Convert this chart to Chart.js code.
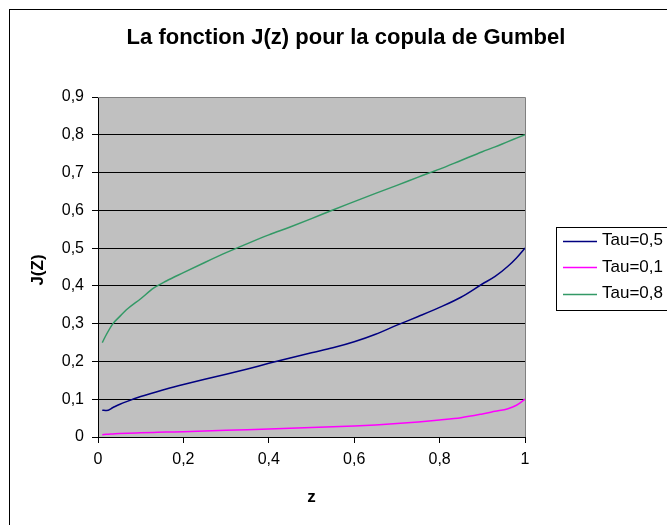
<!DOCTYPE html>
<html>
<head>
<meta charset="utf-8">
<script src="https://cdn.jsdelivr.net/npm/chart.js@4/dist/chart.umd.min.js"></script>
<style>
html,body{margin:0;padding:0;background:#fff;}
#wrap{width:667px;height:525px;position:relative;}
</style>
</head>
<body>
<div id="wrap"><canvas id="c" width="667" height="525"></canvas></div>
<script>
const titleText = "La fonction J(z) pour la copula de Gumbel";
const xTitle = "z";
const yTitle = "J(Z)";
const zValues = [0.01,0.02,0.035,0.05,0.07,0.1,0.13,0.16,0.2,0.25,0.3,0.35,0.4,0.45,0.5,0.55,0.6,0.65,0.7,0.75,0.8,0.85,0.9,0.93,0.96,0.98,1.0];
const tau05 = [0.071,0.070,0.078,0.086,0.095,0.107,0.117,0.127,0.139,0.153,0.166,0.180,0.195,0.209,0.223,0.236,0.252,0.272,0.296,0.319,0.343,0.370,0.405,0.425,0.452,0.474,0.500];
const tau01 = [0.006,0.007,0.008,0.009,0.010,0.011,0.012,0.013,0.014,0.016,0.018,0.019,0.021,0.023,0.025,0.027,0.029,0.032,0.036,0.040,0.045,0.051,0.061,0.068,0.075,0.084,0.100];
const tau08 = [0.250,0.272,0.300,0.318,0.340,0.366,0.394,0.413,0.435,0.462,0.488,0.512,0.535,0.556,0.578,0.601,0.623,0.645,0.666,0.688,0.709,0.732,0.755,0.768,0.782,0.791,0.800];
const seriesLabels = ["Tau=0,5","Tau=0,1","Tau=0,8"];
const seriesColors = ["#000080","#FF00FF","#339966"];
const xTickLabels = {0:"0",0.2:"0,2",0.4:"0,4",0.6:"0,6",0.8:"0,8",1:"1"};

function pts(ys){ return zValues.map((z,i)=>({x:z,y:ys[i]})); }
const allSeries = [tau05,tau01,tau08];

const FONT = "Arial, 'Liberation Sans', sans-serif";

const decor = {
  id:'decor',
  beforeDraw(chart){
    const ctx = chart.ctx, a = chart.chartArea;
    ctx.save();
    ctx.fillStyle = '#fff';
    ctx.fillRect(0,0,chart.width,chart.height);
    ctx.strokeStyle = '#000';
    ctx.lineWidth = 1;
    ctx.strokeRect(9.5,9.5,700,600);
    ctx.fillStyle = '#C0C0C0';
    ctx.fillRect(a.left,a.top,a.right-a.left,a.bottom-a.top);
    ctx.restore();
  },
  afterDraw(chart){
    const ctx = chart.ctx, a = chart.chartArea;
    ctx.save();
    ctx.fillStyle = '#000';
    ctx.font = "bold 22px " + FONT;
    ctx.textAlign = 'center';
    ctx.textBaseline = 'middle';
    ctx.fillText(titleText, 346, 38);
    ctx.font = "bold 17px " + FONT;
    ctx.fillText(xTitle, (a.left+a.right)/2, 497);
    ctx.save();
    ctx.translate(38,270);
    ctx.rotate(-Math.PI/2);
    ctx.fillText(yTitle,0,0);
    ctx.restore();
    // legend
    const lx = 556.5, ly = 227.5;
    ctx.strokeStyle = '#000';
    ctx.lineWidth = 1;
    ctx.fillStyle = '#fff';
    ctx.fillRect(lx,ly,200,83);
    ctx.strokeRect(lx,ly,200,83);
    ctx.font = "17px " + FONT;
    ctx.textAlign = 'left';
    chart.data.datasets.forEach((ds,i)=>{
      const y = 240.5 + i*26.5;
      ctx.strokeStyle = ds.borderColor;
      ctx.lineWidth = 1.5;
      ctx.beginPath();
      ctx.moveTo(563,Math.round(y)+0.5);
      ctx.lineTo(597,Math.round(y)+0.5);
      ctx.stroke();
      ctx.fillStyle = '#000';
      ctx.fillText(ds.label,602,y);
    });
    ctx.strokeStyle = '#808080';
    ctx.lineWidth = 1;
    ctx.beginPath();
    ctx.moveTo(a.left, a.top+0.5);
    ctx.lineTo(a.right+0.5, a.top+0.5);
    ctx.lineTo(a.right+0.5, a.bottom);
    ctx.stroke();
    ctx.restore();
  }
};

new Chart(document.getElementById('c'), {
  type:'scatter',
  data:{
    datasets: allSeries.map((s,i)=>({
      label: seriesLabels[i],
      data: pts(s),
      showLine:true,
      borderColor: seriesColors[i],
      backgroundColor: seriesColors[i],
      borderWidth:1.5,
      pointRadius:0,
      cubicInterpolationMode:'monotone'
    }))
  },
  options:{
    responsive:false,
    animation:false,
    events:[],
    layout:{padding:{top:97,right:142,left:0,bottom:0}},
    plugins:{legend:{display:false},title:{display:false},tooltip:{enabled:false}},
    scales:{
      x:{
        type:'linear', min:0, max:1,
        afterFit(s){ s.height = 88; },
        ticks:{stepSize:0.2, color:'#000', font:{family:FONT,size:16}, padding:7, maxRotation:0,
          callback:(v)=>{ const k=Math.round(v*10)/10; return xTickLabels[k]!==undefined?xTickLabels[k]:''; }},
        grid:{drawOnChartArea:false, drawTicks:true, tickLength:6, color:'#000'},
        border:{color:'#000', width:1}
      },
      y:{
        type:'linear', min:0, max:0.9,
        afterFit(s){ s.width = 98; },
        ticks:{stepSize:0.1, color:'#000', font:{family:FONT,size:16}, padding:8,
          callback:(v)=>{ const r=Math.round(v*10)/10; return r===0?'0':r.toFixed(1).replace('.',','); }},
        grid:{color:'#000', tickLength:6, lineWidth:1},
        border:{color:'#000', width:1}
      }
    }
  },
  plugins:[decor]
});
</script>
</body>
</html>
